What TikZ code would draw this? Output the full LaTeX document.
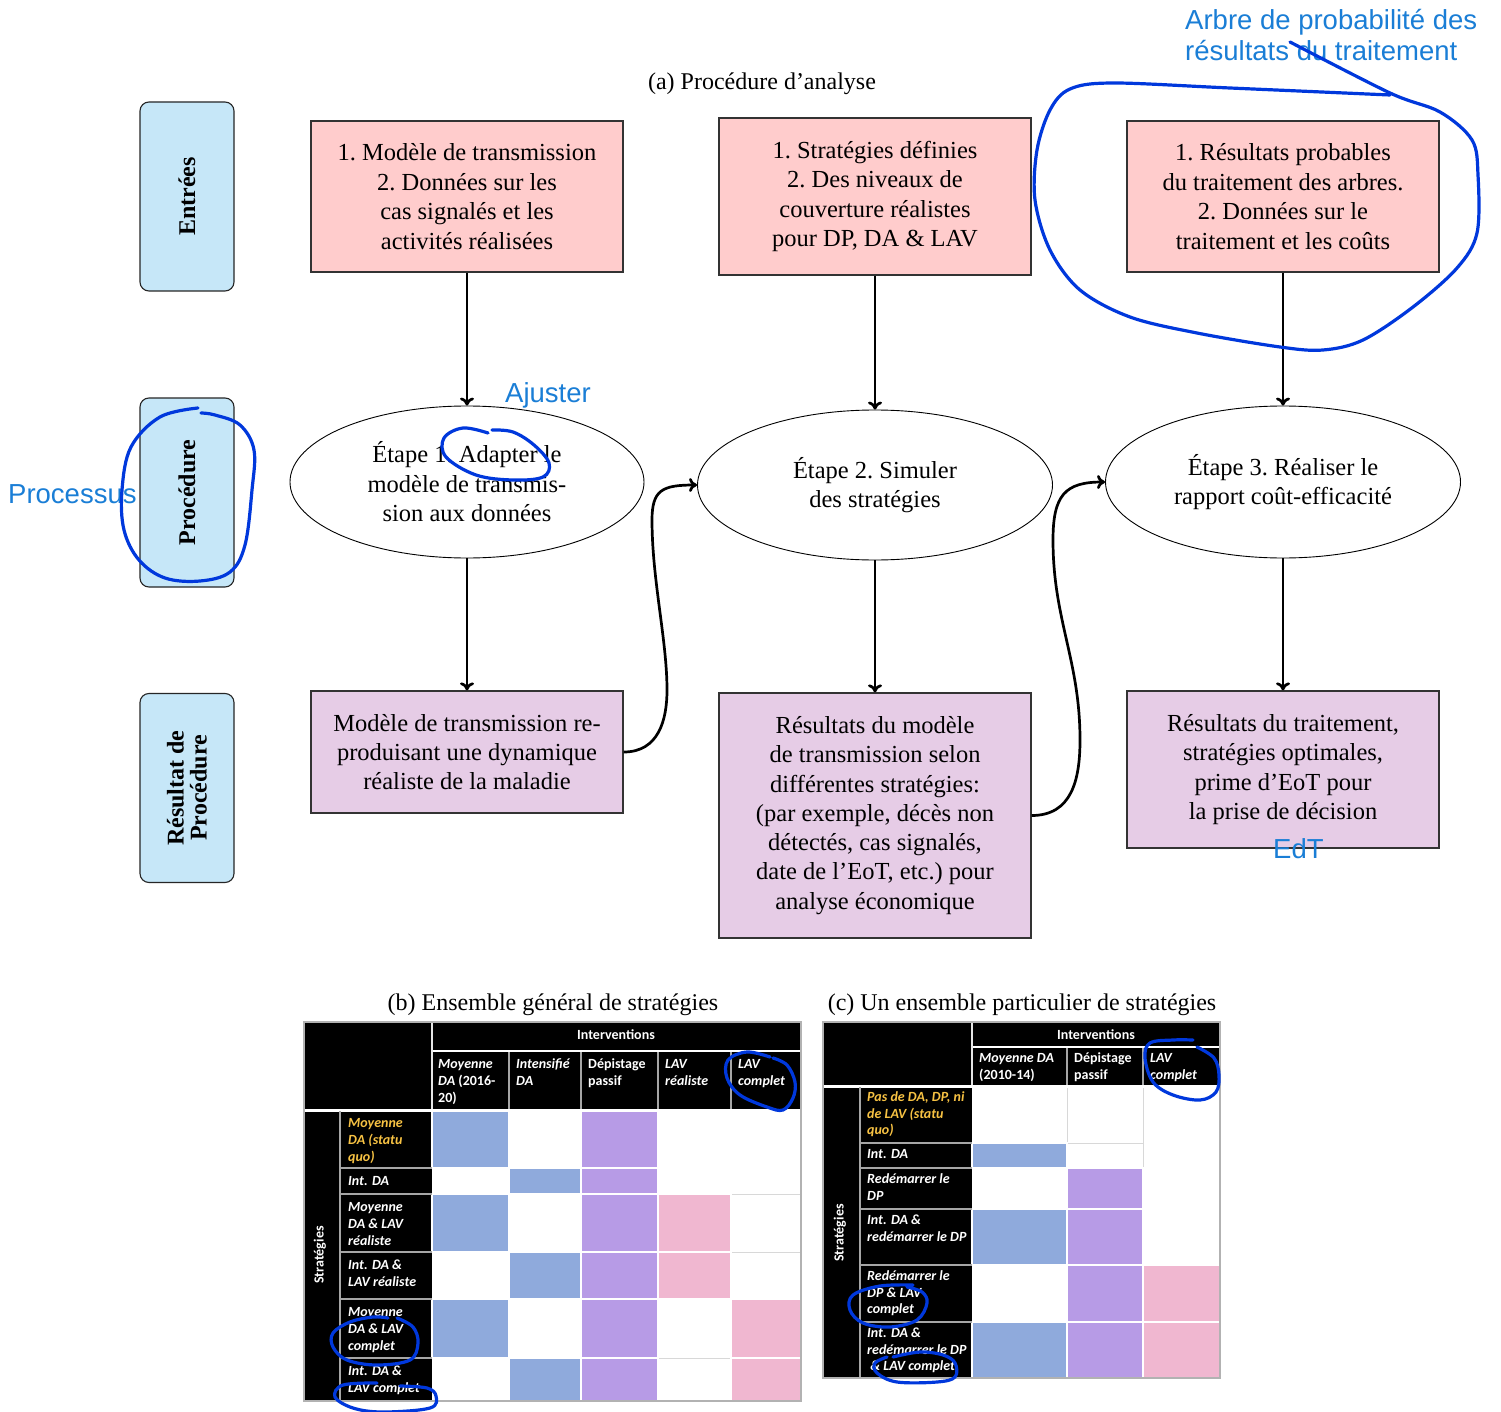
\documentclass[tikz,border=0pt]{standalone}
\usepackage{fontspec}
\setmainfont{Liberation Serif}
\newfontfamily\annfont{Liberation Sans}
\newfontfamily\tabfont{Carlito}
\usetikzlibrary{shapes.geometric,arrows.meta}
\definecolor{inpink}{HTML}{FFCCCC}
\definecolor{outpur}{HTML}{E6CCE6}
\definecolor{lblue}{HTML}{C6E7F8}
\definecolor{cblue}{HTML}{8FAADC}
\definecolor{cpurp}{HTML}{B79BE6}
\definecolor{cpink}{HTML}{F0B7D0}
\definecolor{cgold}{HTML}{F7C243}
\definecolor{anntext}{HTML}{1A7ED6}
\definecolor{annline}{HTML}{0038DC}
\definecolor{gridc}{HTML}{D8D8D8}
\begin{document}
\begin{tikzpicture}[x=1pt,y=-1pt,
  inbox/.style={draw=black!80, line width=1.3, fill=inpink, align=center, inner sep=0, minimum width=312, font=\fontsize{24.5}{29.5}\selectfont},
  outbox/.style={draw=black!80, line width=1.3, fill=outpur, align=center, inner sep=0, minimum width=312, font=\fontsize{24.5}{29.3}\selectfont},
  ell/.style={ellipse, draw, line width=0.9, align=center, inner sep=0, font=\fontsize{24.5}{29.5}\selectfont},
  lbl/.style={draw=black!85, line width=1.1, fill=lblue, rounded corners=9, rotate=90, minimum width=189, minimum height=94, align=center, inner sep=0, font=\fontsize{24}{23}\selectfont\bfseries},
  arr/.style={line width=2.7, -{To[length=8pt,width=14pt]}},
  ann/.style={annline, line width=3.2, line cap=round, line join=round},
  anntxt/.style={text=anntext, font=\annfont\fontsize{27.5}{31}\selectfont, inner sep=0, anchor=base west},
  ttl/.style={font=\fontsize{24}{29}\selectfont, inner sep=0, anchor=base},
  th/.style={text=white, font=\tabfont\bfseries\fontsize{14}{17}\selectfont, inner sep=0, align=left, anchor=north west},
  tl/.style={text=white, font=\tabfont\bfseries\itshape\fontsize{14}{17}\selectfont, inner sep=0, align=left, anchor=north west},
  tlc/.style={text=white, font=\tabfont\bfseries\itshape\fontsize{14}{16.5}\selectfont, inner sep=0, align=left, anchor=north west},
  tc/.style={fill=#1, draw=white, line width=1.2},
  grid/.style={draw=gridc, line width=1}
]
\fill[white] (0,0) rectangle (1501,1412);
\useasboundingbox (0,0) rectangle (1501,1412);

% ---------------- (a) ----------------
\node[ttl] (ta) at (762,90) {(a) Procédure d'analyse};

\node[lbl] (L1) at (187,196.5) {Entrées};
\node[lbl] (L2) at (187,492.5) {Procédure};
\node[lbl] (L3) at (187,788) {Résultat de\\Procédure};

\node[inbox, minimum height=151] (B1) at (467,196.5) {1.\ Modèle de transmission\\2.\ Données sur les\\cas signalés et les\\activités réalisées};
\node[inbox, minimum height=157] (B2) at (875,196.5) {1.\ Stratégies définies\\2.\ Des niveaux de\\couverture réalistes\\pour DP, DA \& LAV};
\node[inbox, minimum height=151] (B3) at (1283,196.5) {1.\ Résultats probables\\du traitement des arbres.\\2.\ Données sur le\\traitement et les coûts};

\node[ell, minimum width=354, minimum height=152] (E1) at (467,482) {Étape 1.\ Adapter le\\modèle de transmis-\\sion aux données};
\node[ell, minimum width=355, minimum height=150] (E2) at (875,485) {Étape 2.\ Simuler\\des stratégies};
\node[ell, minimum width=355, minimum height=152] (E3) at (1283,482) {Étape 3.\ Réaliser le\\rapport coût-efficacité};

\node[outbox, minimum height=122] (P1) at (467,752) {Modèle de transmission re-\\produisant une dynamique\\réaliste de la maladie};
\node[outbox, minimum height=245] (P2) at (875,815.5) {Résultats du modèle\\de transmission selon\\différentes stratégies:\\(par exemple, décès non\\détectés, cas signalés,\\date de l'EoT, etc.)\ pour\\analyse économique};
\node[outbox, minimum height=157] (P3) at (1283,769.5) {Résultats du traitement,\\stratégies optimales,\\prime d'EoT pour\\la prise de décision};

\draw[arr] (B1.south) -- (E1.north);
\draw[arr] (B2.south) -- (E2.north);
\draw[arr] (B3.south) -- (E3.north);
\draw[arr] (E1.south) -- (P1.north);
\draw[arr] (E2.south) -- (P2.north);
\draw[arr] (E3.south) -- (P3.north);
\draw[arr] (P1.east) .. controls +(35,0) and +(0,30) .. (667,690)
   .. controls +(0,-50) and +(0,60) .. (652,520)
   .. controls +(0,-30) and +(-35,0) .. (E2.west);
\draw[arr] (P2.east) .. controls +(40,0) and +(0,40) .. (1080,740)
   .. controls +(0,-80) and +(0,80) .. (1053,540)
   .. controls +(0,-45) and +(-40,0) .. (E3.west);

% ---------------- (b) ----------------
\node[ttl] (tb) at (553,1010) {(b) Ensemble général de stratégies};
\fill[black] (304,1022) rectangle (801,1110);
\fill[black] (304,1110) rectangle (432,1401);
\fill[white] (432,1110) rectangle (801,1401);
\draw[grid] (432,1168) -- (658,1168);
\foreach \yy in {1194,1252,1299,1358} \draw[grid] (432,\yy) -- (801,\yy);
\foreach \xx in {509,581,658} \draw[grid] (\xx,1110) -- (\xx,1401);
\draw[grid] (731,1194) -- (731,1401);
\fill[tc=cblue] (432,1110) rectangle (509,1168);
\fill[tc=cblue] (509,1168) rectangle (581,1194);
\fill[tc=cblue] (432,1194) rectangle (509,1252);
\fill[tc=cblue] (509,1252) rectangle (581,1299);
\fill[tc=cblue] (432,1299) rectangle (509,1358);
\fill[tc=cblue] (509,1358) rectangle (581,1401);
\foreach \ya/\yb in {1110/1168,1168/1194,1194/1252,1252/1299,1299/1358,1358/1401}
  \fill[tc=cpurp] (581,\ya) rectangle (658,\yb);
\fill[tc=cpink] (658,1194) rectangle (731,1252);
\fill[tc=cpink] (658,1252) rectangle (731,1299);
\fill[tc=cpink] (731,1299) rectangle (801,1358);
\fill[tc=cpink] (731,1358) rectangle (801,1401);
\draw[white, line width=2] (432,1050.5) -- (801,1050.5);
\draw[white!80!gray, line width=1.6] (432,1022) -- (432,1110);
\foreach \xx in {509,581,658,731} \draw[gray!70, line width=1.3] (\xx,1052) -- (\xx,1109);
\draw[white, line width=3] (304,1110) -- (801,1110);
\draw[gray!70, line width=1.2] (340,1111) -- (340,1401);
\foreach \yy in {1168,1194,1252,1299,1358} \draw[gray!70, line width=1.2] (340,\yy) -- (432,\yy);
\draw[gray!60, line width=1.4] (304,1022) rectangle (801,1401);
\node[th, anchor=center] (bint) at (616,1035) {Interventions};
\node[th] (bh1) at (438,1056) {\strut\textit{Moyenne}\\\textit{DA} (2016-\\20)};
\node[th] (bh2) at (516,1056) {\strut\textit{Intensifié}\\\textit{DA}};
\node[th] (bh3) at (588,1056) {\strut Dépistage\\passif};
\node[th] (bh4) at (665,1056) {\strut\textit{LAV}\\\textit{réaliste}};
\node[th] (bh5) at (738,1056) {\strut\textit{LAV}\\\textit{complet}};
\node[th, rotate=90, anchor=center] (bstr) at (320,1255) {Stratégies};
\node[tl, text=cgold] (br1) at (348,1115) {\strut Moyenne\\DA (statu\\quo)};
\node[tl] (br2) at (348,1173) {\strut Int. DA};
\node[tl] (br3) at (348,1199) {\strut Moyenne\\DA \& LAV\\réaliste};
\node[tl] (br4) at (348,1257) {\strut Int. DA \&\\LAV réaliste};
\node[tl] (br5) at (348,1304) {\strut Moyenne\\DA \& LAV\\complet};
\node[tl] (br6) at (348,1363) {\strut Int. DA \&\\LAV complet};

% ---------------- (c) ----------------
\node[ttl] (tcc) at (1022,1010) {(c) Un ensemble particulier de stratégies};
\fill[black] (823,1022) rectangle (1220,1086);
\fill[black] (823,1086) rectangle (972,1378);
\fill[white] (972,1086) rectangle (1220,1378);
\foreach \yy in {1143,1168,1209} \draw[grid] (972,\yy) -- (1143,\yy);
\foreach \yy in {1265,1322} \draw[grid] (972,\yy) -- (1220,\yy);
\foreach \xx in {1067,1143} \draw[grid] (\xx,1086) -- (\xx,1378);
\fill[tc=cblue] (972,1143) rectangle (1067,1168);
\fill[tc=cblue] (972,1209) rectangle (1067,1265);
\fill[tc=cblue] (972,1322) rectangle (1067,1378);
\fill[tc=cpurp] (1067,1168) rectangle (1143,1209);
\fill[tc=cpurp] (1067,1209) rectangle (1143,1265);
\fill[tc=cpurp] (1067,1265) rectangle (1143,1322);
\fill[tc=cpurp] (1067,1322) rectangle (1143,1378);
\fill[tc=cpink] (1143,1265) rectangle (1220,1322);
\fill[tc=cpink] (1143,1322) rectangle (1220,1378);
\draw[white, line width=2] (972,1046.5) -- (1220,1046.5);
\draw[white!80!gray, line width=1.6] (972,1022) -- (972,1086);
\foreach \xx in {1067,1143} \draw[gray!70, line width=1.3] (\xx,1048) -- (\xx,1085);
\draw[white, line width=3] (823,1086) -- (1220,1086);
\draw[gray!70, line width=1.2] (860,1087) -- (860,1378);
\foreach \yy in {1143,1168,1209,1265,1322} \draw[gray!70, line width=1.2] (860,\yy) -- (972,\yy);
\draw[gray!60, line width=1.4] (823,1022) rectangle (1220,1378);
\node[th, anchor=center] (cint) at (1096,1035) {Interventions};
\node[th] (ch1) at (979,1050) {\strut\textit{Moyenne DA}\\(2010-14)};
\node[th] (ch2) at (1074,1050) {\strut Dépistage\\passif};
\node[th] (ch3) at (1150,1050) {\strut\textit{LAV}\\\textit{complet}};
\node[th, rotate=90, anchor=center] (cstr) at (840,1233) {Stratégies};
\node[tlc, text=cgold] (cr1) at (867,1090) {\strut Pas de DA, DP, ni\\de LAV (statu\\quo)};
\node[tlc] (cr2) at (867,1147) {\strut Int. DA};
\node[tlc] (cr3) at (867,1172) {\strut Redémarrer le\\DP};
\node[tlc] (cr4) at (867,1213) {\strut Int. DA \&\\redémarrer le DP};
\node[tlc] (cr5) at (867,1269) {\strut Redémarrer le\\DP \& LAV\\complet};
\node[tlc] (cr6) at (867,1326) {\strut Int. DA \&\\redémarrer le DP\\\ \& LAV complet};

% ---------------- annotations ----------------
\node[anntxt] (an1) at (1185,30) {Arbre de probabilité des};
\node[anntxt] (an2) at (1185,61) {résultats du traitement};
\node[anntxt] (an3) at (505,402) {Ajuster};
\node[anntxt] (an4) at (8,503) {Processus};
\node[anntxt] (an5) at (1273,858) {EdT};

\draw[ann] plot[smooth, tension=0.55] coordinates {(1290,42) (1390,93) (1440,112) (1472,140) (1478,175) (1477,233) (1457,268) (1413,307) (1363,340) (1323,350) (1280,347) (1197,333) (1130,317) (1080,290) (1050,250) (1035,200) (1037,150) (1050,110) (1070,89) (1113,83) (1230,88) (1390,95)};
\draw[ann] plot[smooth, tension=0.6] coordinates {(198,408) (160,417) (131,447) (122,490) (124,530) (139,560) (165,578) (200,581) (230,572) (245,545) (252,490) (254,450) (240,425) (215,415) (201,413)};
\draw[ann] plot[smooth, tension=0.6] coordinates {(488,433) (463,428) (444,438) (446,457) (476,475) (513,480) (543,477) (549,463) (534,445) (513,432) (492,430)};
\draw[ann] plot[smooth, tension=0.6] coordinates {(770,1057) (747,1052) (728,1060) (727,1078) (740,1095) (767,1107) (783,1110) (793,1098) (795,1082) (787,1065) (773,1058)};
\draw[ann] plot[smooth, tension=0.6] coordinates {(388,1318) (373,1317) (350,1322) (333,1333) (333,1347) (347,1360) (377,1365) (410,1360) (418,1343) (413,1327) (397,1318)};
\draw[ann] plot[smooth, tension=0.6] coordinates {(377,1383) (343,1385) (335,1397) (353,1408) (383,1412) (430,1408) (436,1396) (427,1388) (400,1386)};
\draw[ann] plot[smooth, tension=0.6] coordinates {(1193,1040) (1173,1040) (1150,1043) (1145,1058) (1153,1082) (1173,1095) (1200,1100) (1216,1092) (1219,1075) (1214,1058) (1197,1047)};
\draw[ann] plot[smooth, tension=0.6] coordinates {(913,1285) (880,1286) (853,1295) (850,1310) (863,1323) (890,1327) (917,1320) (927,1303) (922,1292) (907,1287)};
\draw[ann] plot[smooth, tension=0.6] coordinates {(893,1357) (920,1352) (943,1355) (955,1363) (955,1377) (937,1382) (897,1382) (877,1373) (875,1363) (887,1357)};
\end{tikzpicture}
\end{document}
